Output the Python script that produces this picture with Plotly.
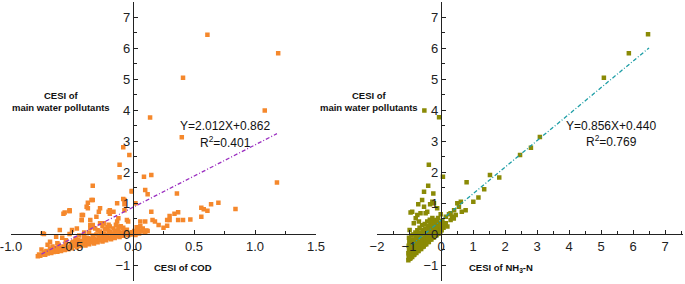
import plotly.graph_objects as go

# ---------------- data ----------------
# Left panel: CESI of COD vs CESI of main water pollutants
cod_x = [0.61, 1.19, 0.41, 1.08, 0.14, 0.40, 1.18, 0.09, 0.15, -0.01, 0.10, 0.12, 0.36, 0.02, 0.15,
         0.64, 0.70, 0.56, 0.58, 0.61, 0.84, 0.37, 0.34, 0.30, 0.30, 0.28, 0.37, 0.41, 0.47, 0.56,
         0.16, 0.18, 0.21, 0.25, 0.28, 0.06, 0.10, 0.11, 0.06, 0.02,
         -0.08, -0.03, -0.11, -0.11, -0.01, -0.33, -0.33, -0.37, -0.37, -0.52, -0.56, -0.52, -0.13, -0.07,
         -0.07, -0.07, -0.42, -0.28, -0.20, -0.16, -0.19, -0.42, -0.35, -0.30, -0.60, -0.73, -0.13, -0.05,
         -0.11, -0.19, -0.27, -0.35, -0.46, -0.34, -0.38, -0.52, -0.57, -0.08, -0.41, -0.27, -0.19,
         -0.42, -0.12, -0.04, -0.24, -0.33, -0.50, -0.63, -0.68, -0.74,
         -0.78, -0.77, -0.76, -0.74, -0.73, -0.72, -0.71, -0.70, -0.69, -0.68, -0.67, -0.66,
         -0.65, -0.64, -0.63, -0.62, -0.61, -0.60, -0.59, -0.58, -0.57, -0.56, -0.55, -0.54,
         -0.53, -0.52, -0.51, -0.50, -0.49, -0.48, -0.47, -0.46, -0.45, -0.44, -0.43, -0.42,
         -0.41, -0.40, -0.44, -0.39, -0.38, -0.37, -0.36, -0.35, -0.34, -0.33, -0.36,
         -0.32, -0.31, -0.30, -0.29, -0.28, -0.27, -0.26, -0.29, -0.31,
         -0.25, -0.24, -0.23, -0.22, -0.21, -0.20, -0.19, -0.23, -0.21,
         -0.18, -0.17, -0.16, -0.15, -0.14, -0.13, -0.12, -0.16, -0.14,
         -0.11, -0.10, -0.09, -0.08, -0.07, -0.06, -0.05, -0.08,
         -0.04, -0.03, -0.02, -0.01, 0.00, 0.01, 0.02, 0.03, 0.04, 0.05, 0.07, 0.08, 0.10, 0.12, 0.03, 0.06,
         -0.55, -0.50, -0.45, -0.40, -0.38, -0.33, -0.30, -0.27, -0.24, -0.20, -0.18, -0.15, -0.12,
         -0.10, -0.20, -0.25, -0.35, -0.40, -0.52, -0.58, -0.62, -0.70, -0.75,
         -0.66, -0.60, -0.48, -0.43, -0.32, -0.26, -0.17, -0.09, -0.47, -0.37, -0.22, -0.13, -0.05]
cod_y = [6.43, 5.83, 5.04, 3.98, 3.76, 3.12, 1.66, 1.85, 1.90, 1.39, 1.42, 1.28, 1.31, 0.99, 0.72,
         0.96, 1.01, 0.85, 0.80, 0.75, 0.81, 0.70, 0.65, 0.58, 0.45, 0.45, 0.45, 0.45, 0.47, 0.56,
         0.45, 0.40, 0.29, 0.20, 0.27, 0.40, 0.40, 0.11, 0.11, 0.07,
         2.80, 2.55, 2.23, 1.83, 1.37, 1.56, 1.10, 1.01, 0.83, 0.74, 0.69, 0.77, 0.99, 1.10,
         0.96, 0.77, 0.61, 0.72, 0.72, 0.72, 0.65, 0.45, 0.45, 0.56, 0.13, 0.00, 0.40, 0.45,
         0.24, 0.24, 0.35, 0.29, 0.18, 1.10, 0.88, 0.74, 0.65, 1.13, 0.61, 0.83, 0.77,
         0.45, 0.51, 0.40, 0.35, 0.29, 0.13, -0.09, -0.25, 0.02,
         -0.72, -0.66, -0.70, -0.66, -0.60, -0.67, -0.55, -0.63, -0.58, -0.48, -0.61, -0.40,
         -0.58, -0.52, -0.45, -0.57, -0.35, -0.50, -0.55, -0.47, -0.40, -0.52, -0.30, -0.44,
         -0.49, -0.42, -0.36, -0.46, -0.25, -0.38, -0.15, -0.43, -0.36, -0.30, -0.39, -0.22,
         -0.33, -0.10, -0.05, -0.37, -0.30, -0.24, -0.33, -0.16, -0.27, -0.05, 0.05,
         -0.31, -0.24, -0.18, -0.27, -0.10, -0.20, 0.00, 0.12, 0.18,
         -0.24, -0.17, -0.10, -0.20, -0.03, -0.14, 0.06, 0.15, 0.22,
         -0.17, -0.10, -0.04, -0.13, 0.03, -0.07, 0.10, 0.18, 0.30,
         -0.10, -0.03, 0.03, -0.06, 0.08, 0.00, 0.14, 0.20,
         -0.04, 0.02, -0.02, 0.06, 0.01, 0.10, -0.03, 0.05, 0.15, 0.02, 0.08, 0.18, 0.04, 0.10, 0.22, 0.25,
         -0.20, -0.28, -0.20, -0.20, -0.12, -0.15, -0.02, 0.08, 0.02, 0.10, 0.02, 0.10, 0.18,
         0.25, 0.30, 0.25, 0.20, 0.05, 0.00, -0.12, -0.30, -0.35, -0.50,
         -0.54, -0.44, -0.32, -0.26, -0.16, -0.10, 0.00, 0.05, -0.22, -0.14, -0.06, -0.02, 0.06]

# Right panel: CESI of NH3-N vs CESI of main water pollutants
nh3_x = [6.47, 5.87, 5.09, 3.09, 2.81, 2.47, 1.53, 1.82, 0.80, 1.35, 0.06, -0.06, -0.52,
         -0.38, -0.40, -0.53, -0.24, -0.59, -0.71, -0.34, -0.22, -0.95, -0.64, -0.43, -0.79, -0.69,
         -0.98, -0.12, -0.01, 1.17, 1.01, -0.27, -0.90, -0.74, -0.48, -0.85, -0.53,
         0.15, 0.30, 0.41, 0.56, 0.51, 0.62, 0.04, 0.20, 0.25, 0.35, 0.46, 0.65, 0.77, 0.15, 0.30, 0.40,
         -1.02, -1.01, -1.02, -1.00, -1.01, -0.99, -1.00, -0.98, -0.97,
         -0.95, -0.94, -0.95, -0.93, -0.94, -0.92, -0.93,
         -0.90, -0.89, -0.88, -0.87, -0.88, -0.86, -0.87, -0.85,
         -0.83, -0.82, -0.81, -0.80, -0.81, -0.79, -0.80,
         -0.77, -0.76, -0.75, -0.74, -0.73, -0.75, -0.72, -0.74,
         -0.70, -0.69, -0.68, -0.67, -0.66, -0.68, -0.65, -0.67,
         -0.62, -0.61, -0.60, -0.59, -0.58, -0.60, -0.57, -0.59,
         -0.54, -0.53, -0.52, -0.51, -0.50, -0.52, -0.49, -0.51,
         -0.46, -0.45, -0.44, -0.43, -0.42, -0.44, -0.41, -0.43,
         -0.38, -0.37, -0.36, -0.35, -0.34, -0.36, -0.33, -0.35,
         -0.30, -0.29, -0.28, -0.27, -0.26, -0.28, -0.25, -0.27,
         -0.22, -0.21, -0.20, -0.19, -0.18, -0.20, -0.17,
         -0.14, -0.13, -0.12, -0.11, -0.10, -0.12, -0.09,
         -0.06, -0.05, -0.04, -0.03, -0.02, -0.01, 0.00, 0.02, 0.04, 0.06, 0.03, 0.08, 0.10,
         -0.99, -0.96, -0.91, -0.84, -0.78, -0.71, -0.63, -0.56, -0.48, -0.40, -0.32, -0.24, -0.16]
nh3_y = [6.44, 5.83, 5.04, 3.13, 2.78, 2.55, 1.90, 1.82, 1.67, 1.44, 1.85, 3.77, 3.98,
         2.23, 1.56, 1.36, 1.31, 1.10, 0.96, 0.96, 0.99, 0.69, 0.67, 0.72, 0.51, 0.40,
         0.13, 0.83, 0.64, 1.18, 1.04, 1.04, 0.72, 0.61, 0.67, 0.35, 0.88,
         0.56, 0.67, 0.77, 0.88, 0.99, 1.04, 0.40, 0.24, 0.64, 0.56, 0.61, 0.72, 0.77, 0.35, 0.45, 0.50,
         -0.85, -0.75, -0.62, -0.50, -0.38, -0.25, -0.12, -0.80, -0.68,
         -0.78, -0.70, -0.58, -0.45, -0.32, -0.20, -0.05,
         -0.74, -0.66, -0.55, -0.43, -0.30, -0.18, -0.02, -0.68,
         -0.66, -0.58, -0.48, -0.36, -0.22, -0.10, 0.05,
         -0.61, -0.52, -0.42, -0.30, -0.55, -0.15, 0.00, 0.12,
         -0.55, -0.46, -0.36, -0.24, -0.48, -0.10, 0.05, 0.20,
         -0.48, -0.38, -0.28, -0.16, -0.42, -0.02, 0.12, 0.28,
         -0.40, -0.30, -0.20, -0.08, -0.34, 0.06, 0.18, 0.32,
         -0.33, -0.23, -0.12, 0.00, -0.26, 0.14, 0.25, 0.40,
         -0.26, -0.15, -0.05, 0.08, -0.18, 0.20, 0.32, 0.46,
         -0.18, -0.08, 0.03, 0.14, -0.12, 0.26, 0.38, 0.52,
         -0.11, 0.00, 0.10, 0.22, -0.05, 0.33, 0.45,
         -0.04, 0.06, 0.16, 0.28, 0.02, 0.40, 0.52,
         0.02, 0.12, 0.22, 0.34, 0.08, 0.18, 0.28, 0.12, 0.22, 0.32, 0.42, 0.20, 0.30,
         -0.70, -0.60, -0.62, -0.55, -0.48, -0.40, -0.34, -0.26, -0.20, -0.12, -0.05, 0.02, 0.10]

# Fitted lines (as printed on the chart)
cod_fit = {"slope": 2.012, "intercept": 0.862, "x": [-0.75, 1.18]}
nh3_fit = {"slope": 0.856, "intercept": 0.440, "x": [-0.92, 6.5]}

cod_ticks = [-1.0, -0.5, 0.0, 0.5, 1.0, 1.5]
cod_ticktext = ["-1.0", "-0.5", "0.0", "0.5", "1.0", "1.5"]
nh3_ticks = [-2, -1, 0, 1, 2, 3, 4, 5, 6, 7]
y_ticks = [-1, 0, 1, 2, 3, 4, 5, 6, 7]

# ---------------- layout geometry ----------------
W, H = 685, 284
FONT = "Liberation Sans, Arial, sans-serif"
ORANGE = "#F5882C"
OLIVE = "#8A8A06"
PURPLE = "#9B2FC0"
TEAL = "#1E9EA6"

xr1 = [-1.0, 1.5]
xr2 = [-2.0, 7.55]
yr = [-1.5, 7.5]
xd1 = [11 / W, 316 / W]
xd2 = [377 / W, 682.6 / W]
yd = [1 - 280.5 / H, 1 - 1.5 / H]


def frac(v, rng, dom):
    return dom[0] + (v - rng[0]) / (rng[1] - rng[0]) * (dom[1] - dom[0])


fig = go.Figure()

fig.add_trace(go.Scatter(x=cod_x, y=cod_y, mode="markers", xaxis="x", yaxis="y",
                         marker=dict(symbol="square", size=4.5, color=ORANGE, line=dict(width=0))))
fx = cod_fit["x"]
fig.add_trace(go.Scatter(x=fx, y=[cod_fit["slope"] * v + cod_fit["intercept"] for v in fx],
                         mode="lines", xaxis="x", yaxis="y",
                         line=dict(color=PURPLE, width=1.3, dash="4px,2px,1px,2px")))

fig.add_trace(go.Scatter(x=nh3_x, y=nh3_y, mode="markers", xaxis="x2", yaxis="y2",
                         marker=dict(symbol="square", size=4.5, color=OLIVE, line=dict(width=0))))
fx2 = nh3_fit["x"]
fig.add_trace(go.Scatter(x=fx2, y=[nh3_fit["slope"] * v + nh3_fit["intercept"] for v in fx2],
                         mode="lines", xaxis="x2", yaxis="y2",
                         line=dict(color=TEAL, width=1.3, dash="4px,2px,1px,2px")))

axis_common = dict(showgrid=False, zeroline=False, showline=True, linecolor="#222", linewidth=1.3,
                   ticks="inside", ticklen=4, tickwidth=1.2, tickcolor="#222", automargin=False,
                   ticklabeloverflow="allow",
                   tickfont=dict(family=FONT, size=13, color="#222"), fixedrange=True)

fig.update_layout(
    width=W, height=H, margin=dict(l=0, r=0, t=0, b=0, pad=0, autoexpand=False),
    paper_bgcolor="white", plot_bgcolor="white", showlegend=False,
    xaxis=dict(domain=xd1, range=xr1, anchor="free", position=frac(0, yr, yd), side="bottom",
               tickvals=cod_ticks, ticktext=cod_ticktext,
               minor=dict(dtick=0.25, tick0=0, ticks="inside", ticklen=3, tickcolor="#222"),
               **axis_common),
    yaxis=dict(domain=yd, range=yr, anchor="free", position=frac(0, xr1, xd1), side="left",
               tickvals=y_ticks,
               minor=dict(dtick=0.5, tick0=0, ticks="inside", ticklen=3, tickcolor="#222"),
               **axis_common),
    xaxis2=dict(domain=xd2, range=xr2, anchor="free", position=frac(0, yr, yd), side="bottom",
                tickvals=nh3_ticks,
                minor=dict(dtick=0.5, tick0=0, ticks="inside", ticklen=3, tickcolor="#222"),
                **axis_common),
    yaxis2=dict(domain=yd, range=yr, anchor="free", position=frac(0, xr2, xd2), side="left",
                tickvals=y_ticks,
                minor=dict(dtick=0.5, tick0=0, ticks="inside", ticklen=3, tickcolor="#222"),
                **axis_common),
)


def px_ann(text, x, y, size, bold=False):
    fig.add_annotation(text=f"<b>{text}</b>" if bold else text, x=x / W, y=1 - y / H,
                       xref="paper", yref="paper", xanchor="center", yanchor="middle",
                       showarrow=False, font=dict(family=FONT, size=size, color="#111"))


px_ann("CESI of<br>main water pollutants", 61, 101, 9.5, bold=True)
px_ann("CESI of<br>main water pollutants", 369, 101, 9.5, bold=True)
px_ann("CESI of COD", 183, 267, 9.5, bold=True)
px_ann("CESI of NH<sub>3</sub>-N", 501, 268, 9.5, bold=True)
px_ann("Y=2.012X+0.862", 225, 126, 12)
px_ann("R<sup>2</sup>=0.401", 225, 142, 12)
px_ann("Y=0.856X+0.440", 611, 126, 12)
px_ann("R<sup>2</sup>=0.769", 611, 141, 12)

fig.write_html("out.html", config={"displayModeBar": False},
               post_script="document.body.style.margin='0';document.body.style.overflow='hidden';")
